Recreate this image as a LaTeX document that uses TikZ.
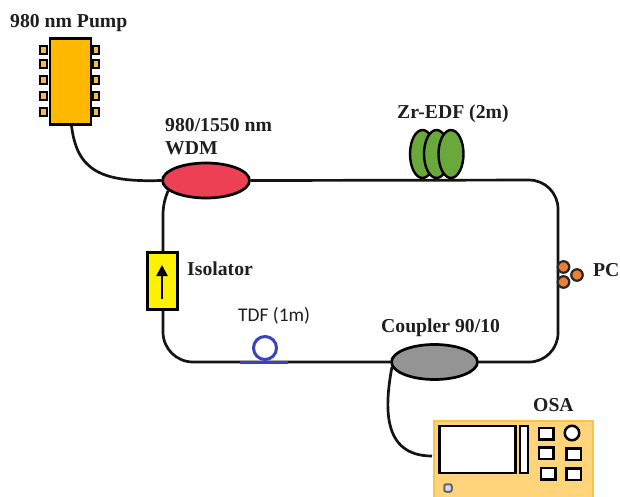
\documentclass[tikz,border=0pt]{standalone}
\usepackage{fontspec}
\setmainfont{Liberation Serif}
\newfontfamily\calib{Carlito}
\usetikzlibrary{shapes.geometric,arrows.meta}
\definecolor{pumpc}{HTML}{FFB900}
\definecolor{wdmc}{HTML}{EE4055}
\definecolor{coilc}{HTML}{6AA83C}
\definecolor{pcc}{HTML}{EB7F33}
\definecolor{osac}{HTML}{FFD47A}
\definecolor{osab}{HTML}{FBC34B}
\definecolor{tdfc}{HTML}{3A42C0}
\definecolor{pinc}{HTML}{EFC040}
\tikzset{
  fiber/.style={draw=black!92,line width=2.7pt},
  lbl/.style={font=\fontsize{19.7}{20}\selectfont\bfseries,text=black!88,inner sep=0pt,anchor=west},
  pin/.style={draw=black,line width=2.4pt,fill=pinc,minimum width=6.5pt,minimum height=8pt,inner sep=0pt},
  coil/.style={ellipse,draw=black,line width=2.4pt,fill=coilc,inner sep=0pt,minimum width=25pt,minimum height=48pt},
  pcdisc/.style={circle,draw=black!85,line width=2.2pt,fill=pcc,inner sep=0pt,minimum size=11.5pt},
  keybtn/.style={draw=black,line width=2.5pt,fill=white,inner sep=0pt,minimum width=14.5pt,minimum height=11.5pt}
}
\begin{document}
\begin{tikzpicture}[x=1pt,y=-1pt]
\useasboundingbox (0,0) rectangle (620,497);
\fill[white] (0,0) rectangle (620,497);
% OSA
\begin{scope}
\clip (0,0) rectangle (620,497);
\node[draw=osab,line width=2.4pt,fill=osac,minimum width=159pt,minimum height=90pt,inner sep=0pt,anchor=north west] (osa) at (432.5,419.5) {};
\end{scope}
\coordinate (osaport) at (432,456);
% main components
\node[ellipse,draw=black,line width=2.7pt,fill=wdmc,minimum width=87pt,minimum height=35pt,inner sep=0pt] (wdm) at (206,180.5) {};
\node[ellipse,draw=black,line width=2.7pt,fill=black!42,minimum width=86pt,minimum height=35pt,inner sep=0pt] (coupler) at (434.5,362) {};
\coordinate (tr) at (558,180);
\coordinate (br) at (558,362);
\coordinate (bl) at (163,362);
\coordinate (tl) at (163,215);
% fibers
\draw[fiber,rounded corners=29pt] (wdm.east) -- (tr) -- (br) -- (coupler.east);
\draw[fiber,rounded corners=30pt] (tl) -- (bl) -- (coupler.west);
\draw[fiber] (wdm.195) .. controls (165,198) and (163,206) .. (tl);
\draw[fiber] (coupler.187) .. controls (385,405) and (381,456) .. (osaport);
% isolator
\node[draw=black,line width=2.6pt,fill=yellow,minimum width=30pt,minimum height=57pt,inner sep=0pt] (iso) at (162.5,281) {};
\coordinate (arrs) at (162,299);
\coordinate (arre) at (162,265);
\draw[line width=2.6pt,-{Triangle[length=11pt,width=11pt]}] (arrs) -- (arre);
% pump
\foreach \y/\n in {50/a,64/b,80/c,96/d,112/e}{
  \node[pin] (pl\n) at (43.5,\y) {};
  \node[pin] (pr\n) at (96,\y) {};
}
\node[draw=black,line width=2.7pt,fill=pumpc,minimum width=41pt,minimum height=86pt,inner sep=0pt] (pump) at (70.5,81.5) {};
\draw[fiber] (pump.south) ++(1,0) .. controls (77,170) and (100,182.5) .. (wdm.west);
% coils
\foreach \x/\n in {422.5/a,436.5/b,451/c}{
  \node[coil] (coil\n) at (\x,154) {};
}
\coordinate (cl) at (405,180);
\coordinate (cr) at (470,180);
\draw[fiber] (cl) -- (cr);
% PC
\node[pcdisc] (pc1) at (563.5,267) {};
\node[pcdisc] (pc2) at (563.5,282) {};
\node[pcdisc] (pc3) at (577,275) {};
% TDF
\node[circle,draw=tdfc,line width=3pt,minimum size=23pt,inner sep=0pt] (loop) at (265,348) {};
\coordinate (tdl) at (240,362);
\coordinate (tdr) at (288,362);
\draw[tdfc,line width=3pt] (tdl) -- (tdr);
% OSA details
\node[draw=black,line width=2.6pt,fill=white,minimum width=76pt,minimum height=47pt,inner sep=0pt] (screen) at (477.5,449.5) {};
\node[draw=black,line width=2.4pt,fill=white,minimum width=7.5pt,minimum height=47pt,inner sep=0pt] (slim) at (524,449.5) {};
\node[keybtn] (k1) at (546,433.5) {};
\node[circle,draw=black,line width=2.5pt,fill=white,inner sep=0pt,minimum size=14.5pt] (k2) at (572,433) {};
\node[keybtn] (k3) at (546,453) {};
\node[keybtn] (k4) at (573.5,454) {};
\node[keybtn] (k5) at (548,473.5) {};
\node[keybtn] (k6) at (573.5,474) {};
\node[draw=black!60,line width=2pt,fill=blue!15!white,rounded corners=2pt,minimum size=7.5pt,inner sep=0pt] (led) at (448,488) {};
% labels
\node[lbl] (t1) at (10,23) {980 nm Pump};
\node[lbl] (t2) at (165,125) {980/1550 nm};
\node[lbl] (t3) at (165,148) {WDM};
\node[lbl] (t4) at (397,114) {Zr-EDF (2m)};
\node[lbl] (t5) at (187,269) {Isolator};
\node[lbl,font=\calib\fontsize{19.4}{20}\selectfont] (t6) at (238,316) {TDF (1m)};
\node[lbl] (t7) at (381,328) {Coupler 90/10};
\node[lbl] (t8) at (533,405) {OSA};
\node[lbl] (t9) at (593,270) {PC};
\end{tikzpicture}
\end{document}
